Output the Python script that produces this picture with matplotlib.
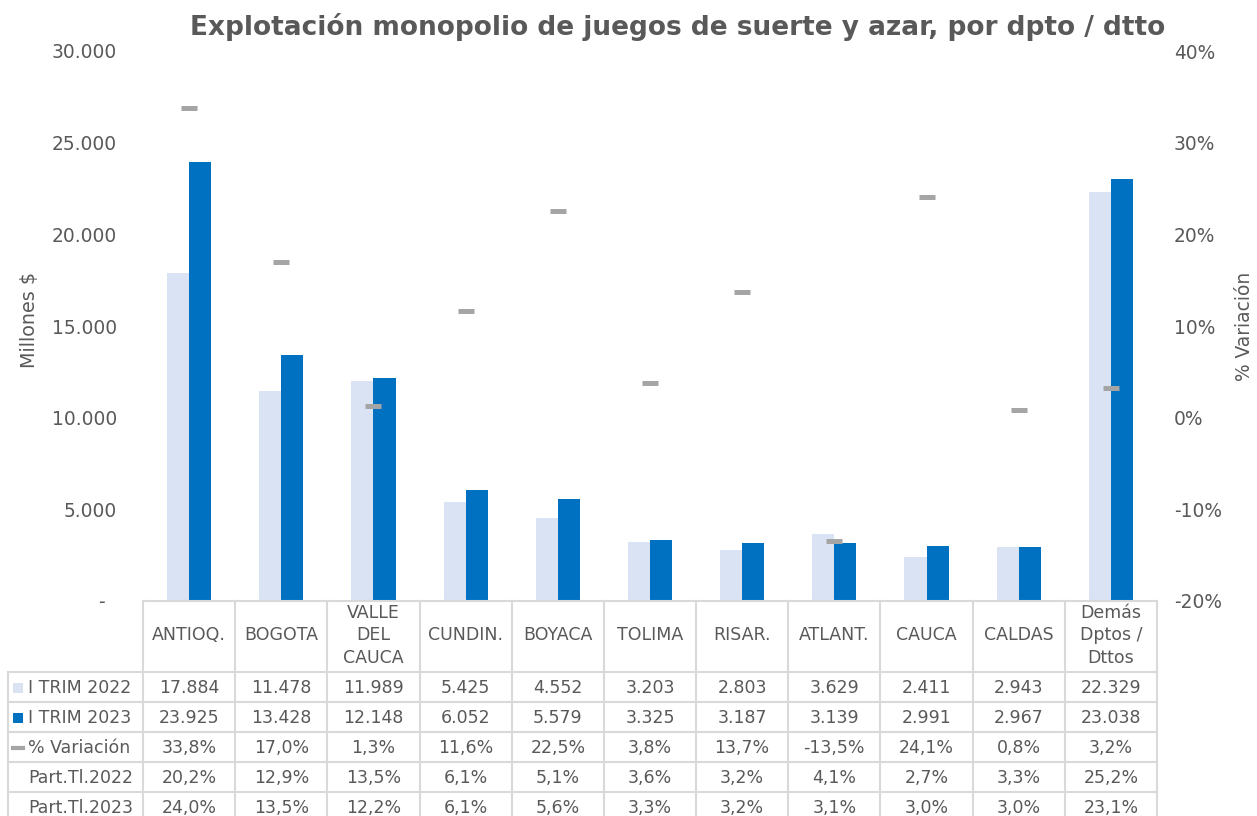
#!/usr/bin/env python3

import matplotlib.pyplot as plt
import numpy as np

regions = ["ANTIOQ.", "BOGOTA", "VALLE\nDEL\nCAUCA", "CUNDIN.", "BOYACA", "TOLIMA",
           "RISAR.", "ATLANT.", "CAUCA", "CALDAS", "Demás\nDptos /\nDttos"]
trim_2022 = [17884, 11478, 11989, 5425, 4552, 3203, 2803, 3629, 2411, 2943, 22329]
trim_2023 = [23925, 13428, 12148, 6052, 5579, 3325, 3187, 3139, 2991, 2967, 23038]
variacion = [33.8, 17.0, 1.3, 11.6, 22.5, 3.8, 13.7, -13.5, 24.1, 0.8, 3.2]
part_2022 = [20.2, 12.9, 13.5, 6.1, 5.1, 3.6, 3.2, 4.1, 2.7, 3.3, 25.2]
part_2023 = [24.0, 13.5, 12.2, 6.1, 5.6, 3.3, 3.2, 3.1, 3.0, 3.0, 23.1]
left_ticks = [0, 5000, 10000, 15000, 20000, 25000, 30000]
right_ticks = [-20, -10, 0, 10, 20, 30, 40]

W, H = 1257, 816
C_LIGHT = "#DAE3F3"
C_DARK = "#0070C0"
C_VAR = "#A5A5A5"
C_TXT = "#595959"
C_GRID = "#D9D9D9"


def fx(px):
    return px / W


def fy(py):
    return 1 - py / H


def miles(v):
    return f"{v:,}".replace(",", ".")


def pct(v):
    return f"{v:.1f}%".replace(".", ",")


def _main():
    plt.rcParams["font.family"] = "DejaVu Sans"
    fig = plt.figure(figsize=(W / 100, H / 100), dpi=100)

    L, R, TOP, BOT = 143, 1157, 51, 601
    ax = fig.add_axes([fx(L), fy(BOT), fx(R) - fx(L), (BOT - TOP) / H])
    ax2 = ax.twinx()

    n = len(regions)
    x = np.arange(n)
    bw = 0.24
    ax.bar(x - bw / 2, trim_2022, bw, color=C_LIGHT, zorder=2)
    ax.bar(x + bw / 2, trim_2023, bw, color=C_DARK, zorder=2)
    ax2.plot(x, variacion, linestyle="none", marker="_", markersize=12,
             markeredgewidth=3.6, color=C_VAR)

    ax.set_xlim(-0.5, n - 0.5)
    ax.set_ylim(0, 30000)
    ax2.set_ylim(-20, 40)
    ax.set_yticks(left_ticks)
    ax.set_yticklabels(["-  " if t == 0 else miles(t) for t in left_ticks])
    ax2.set_yticks(right_ticks)
    ax2.set_yticklabels([f"{t}%" for t in right_ticks])
    ax.set_xticks([])
    for a in (ax, ax2):
        for s in a.spines.values():
            s.set_visible(False)
        a.tick_params(axis="y", length=0, labelsize=13.4, labelcolor=C_TXT)
    ax.tick_params(axis="y", pad=18.7)
    ax2.tick_params(axis="y", pad=12.2)

    fig.text(fx(30), fy(320), "Millones $", rotation=90, ha="center", va="center",
             fontsize=13.8, color=C_TXT)
    fig.text(fx(1245), fy(326), "% Variación", rotation=90, ha="center", va="center",
             fontsize=13.4, color=C_TXT)
    fig.text(fx(678), fy(27), "Explotación monopolio de juegos de suerte y azar, por dpto / dtto",
             ha="center", va="center", fontsize=19, fontweight="bold", color=C_TXT)

    # data table under the plot
    cw = (R - L) / n
    rows = [672, 702, 732, 762, 792, 822]
    lw = 1.5
    fig.add_artist(plt.Line2D([fx(L), fx(R)], [fy(BOT), fy(BOT)], color=C_GRID, lw=lw))
    for r in rows:
        fig.add_artist(plt.Line2D([fx(8), fx(R)], [fy(r), fy(r)], color=C_GRID, lw=lw))
    for i in range(n + 1):
        xp = L + i * cw
        fig.add_artist(plt.Line2D([fx(xp), fx(xp)], [fy(BOT), fy(H + 5)], color=C_GRID, lw=lw))
    fig.add_artist(plt.Line2D([fx(8), fx(8)], [fy(rows[0]), fy(H + 5)], color=C_GRID, lw=lw))

    for i, name in enumerate(regions):
        fig.text(fx(L + (i + 0.5) * cw), fy((BOT + rows[0]) / 2 - 1), name, ha="center",
                 va="center", fontsize=12.5, color=C_TXT, linespacing=1.3)

    table = [
        ("I TRIM 2022", [miles(v) for v in trim_2022], "s", C_LIGHT),
        ("I TRIM 2023", [miles(v) for v in trim_2023], "s", C_DARK),
        ("% Variación", [pct(v) for v in variacion], "_", C_VAR),
        ("Part.Tl.2022", [pct(v) for v in part_2022], None, None),
        ("Part.Tl.2023", [pct(v) for v in part_2023], None, None),
    ]
    for k, (label, vals, mk, col) in enumerate(table):
        yc = (rows[k] + rows[k + 1]) / 2 + 1
        fig.text(fx(28), fy(yc), label, ha="left", va="center", fontsize=12.5, color=C_TXT)
        if mk == "s":
            fig.add_artist(plt.Rectangle((fx(13), fy(yc + 5)), 10 / W, 10 / H,
                                         color=col, lw=0))
        elif mk == "_":
            fig.add_artist(plt.Line2D([fx(13), fx(23)], [fy(yc), fy(yc)], color=col, lw=3))
        for i, v in enumerate(vals):
            fig.text(fx(L + (i + 0.5) * cw), fy(yc), v, ha="center", va="center",
                     fontsize=12.5, color=C_TXT)

    fig.savefig("out.png", dpi=100)


if __name__ == '__main__':
    _main()
